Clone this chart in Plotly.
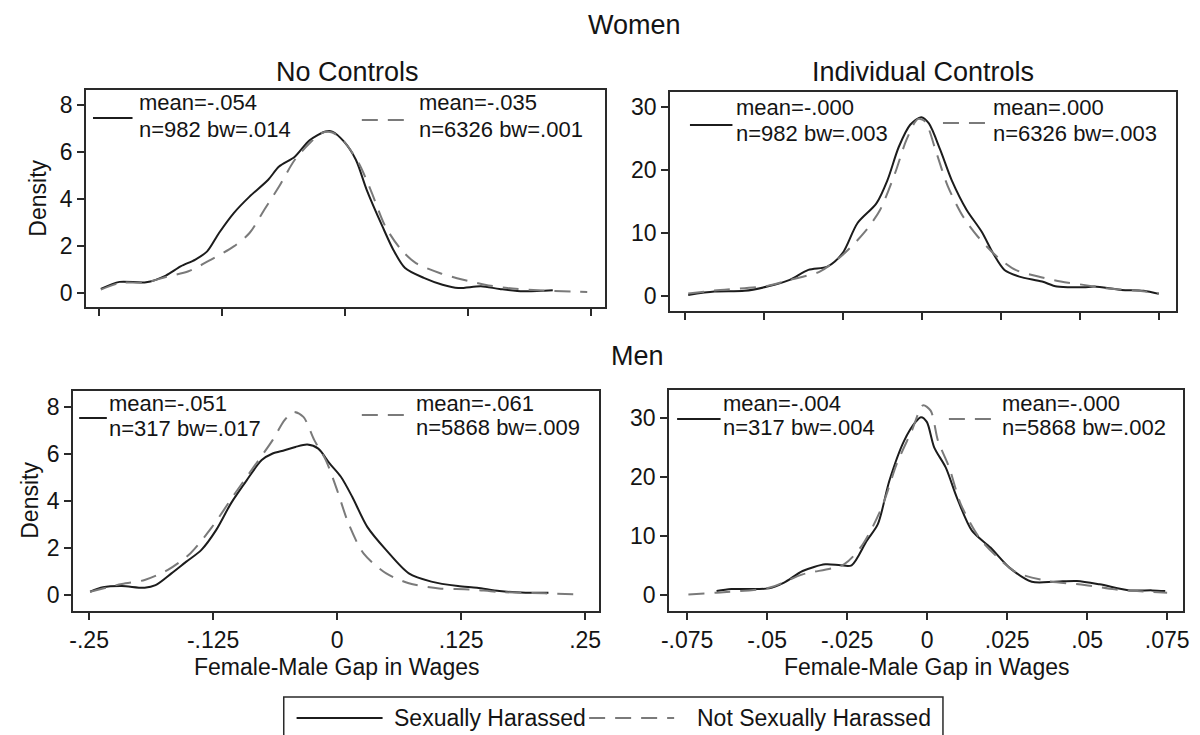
import plotly.graph_objects as go

W, H = 1200, 735

# ---------------- data: kernel densities of the female-male wage gap ----------------
# Women, no controls
women_nc_har_x = [-0.248, -0.229, -0.202, -0.182, -0.167, -0.152, -0.140, -0.128, -0.113, -0.097,
                  -0.078, -0.067, -0.051, -0.036, -0.020, -0.013, -0.001, 0.011, 0.022, 0.038,
                  0.049, 0.061, 0.080, 0.099, 0.115, 0.138, 0.157, 0.181, 0.211]
women_nc_har_y = [0.17, 0.47, 0.45, 0.74, 1.13, 1.42, 1.77, 2.55, 3.40, 4.10,
                  4.82, 5.38, 5.80, 6.50, 6.87, 6.87, 6.44, 5.67, 4.39, 2.83,
                  1.84, 1.06, 0.64, 0.35, 0.21, 0.28, 0.17, 0.07, 0.11]
women_nc_not_x = [-0.248, -0.229, -0.202, -0.182, -0.159, -0.136, -0.113, -0.097, -0.082, -0.067,
                  -0.051, -0.036, -0.024, -0.013, -0.001, 0.014, 0.026, 0.041, 0.057, 0.072,
                  0.096, 0.119, 0.142, 0.165, 0.196, 0.246]
women_nc_not_y = [0.14, 0.42, 0.45, 0.68, 0.92, 1.42, 1.98, 2.55, 3.54, 4.53,
                  5.67, 6.37, 6.80, 6.83, 6.44, 5.52, 4.39, 2.83, 1.84, 1.27,
                  0.85, 0.57, 0.35, 0.21, 0.11, 0.04]

# Women, individual controls
women_ic_har_x = [-0.074, -0.0657, -0.0562, -0.049, -0.0419, -0.036, -0.030, -0.0252, -0.0205, -0.0145,
                  -0.011, -0.0074, -0.0038, -0.0003, 0.0021, 0.0057, 0.0093, 0.014, 0.0188, 0.0224,
                  0.026, 0.0307, 0.0379, 0.0426, 0.051, 0.0545, 0.0629, 0.070, 0.0748]
women_ic_har_y = [0.16, 0.69, 0.80, 1.48, 2.54, 4.13, 4.66, 6.78, 11.55, 14.7,
                  18.4, 23.7, 27.2, 28.4, 27.4, 23.2, 18.4, 13.7, 10.2, 6.78,
                  4.13, 3.07, 2.28, 1.48, 1.38, 1.48, 0.95, 0.80, 0.32]
women_ic_not_x = [-0.074, -0.0657, -0.049, -0.0419, -0.0324, -0.0252, -0.0181, -0.0133, -0.0086, -0.005,
                  -0.0014, 0.0009, 0.0045, 0.0081, 0.0129, 0.0176, 0.0236, 0.0295, 0.0367, 0.0438,
                  0.051, 0.058, 0.0676, 0.0748]
women_ic_not_y = [0.37, 0.85, 1.59, 2.54, 3.87, 6.50, 10.2, 13.7, 19.5, 24.8,
                  28.1, 27.7, 22.7, 17.4, 12.6, 9.40, 6.25, 4.13, 3.07, 2.28,
                  1.75, 1.22, 0.85, 0.42]

# Men, no controls
men_nc_har_x = [-0.249, -0.236, -0.217, -0.194, -0.183, -0.167, -0.152, -0.137, -0.122, -0.107,
                -0.091, -0.076, -0.065, -0.053, -0.042, -0.030, -0.019, -0.0076, 0.0038, 0.0152,
                0.0304, 0.0495, 0.0723, 0.095, 0.1218, 0.141, 0.1636, 0.190, 0.213]
men_nc_har_y = [0.14, 0.33, 0.38, 0.31, 0.42, 0.92, 1.42, 1.91, 2.76, 3.90,
                4.89, 5.74, 6.02, 6.16, 6.30, 6.40, 6.23, 5.60, 5.03, 4.18,
                2.90, 1.91, 0.92, 0.57, 0.38, 0.31, 0.17, 0.10, 0.10]
men_nc_not_x = [-0.249, -0.217, -0.194, -0.171, -0.148, -0.126, -0.103, -0.084, -0.065, -0.053,
                -0.044, -0.034, -0.023, -0.0114, 0.0, 0.0114, 0.0266, 0.0495, 0.0723, 0.1027,
                0.133, 0.1636, 0.209, 0.240]
men_nc_not_y = [0.14, 0.47, 0.64, 1.06, 1.77, 2.90, 4.32, 5.45, 6.59, 7.44,
                7.79, 7.58, 6.59, 5.74, 4.46, 3.05, 1.77, 0.92, 0.50, 0.28,
                0.24, 0.13, 0.07, 0.03]

# Men, individual controls
men_ic_har_x = [-0.0658, -0.0612, -0.0494, -0.0447, -0.0389, -0.0318, -0.0271, -0.0236, -0.0189, -0.0154,
                -0.0118, -0.0072, -0.0036, -0.0019, -0.0001, 0.0022, 0.0058, 0.0093, 0.014, 0.0198,
                0.0257, 0.0327, 0.0398, 0.0468, 0.0539, 0.0633, 0.0703, 0.0744]
men_ic_har_y = [0.68, 1.02, 1.13, 2.09, 4.07, 5.20, 5.04, 5.04, 9.17, 12.0,
                19.35, 26.1, 29.3, 30.1, 29.3, 25.0, 21.6, 16.5, 10.9, 8.04,
                4.64, 2.26, 2.26, 2.38, 1.81, 0.79, 0.79, 0.68]
men_ic_not_x = [-0.0746, -0.0658, -0.0494, -0.0389, -0.026, -0.0201, -0.0142, -0.0095, -0.0048, -0.0013,
                0.0011, 0.0034, 0.0069, 0.0105, 0.0163, 0.0222, 0.028, 0.0374, 0.0492, 0.0586,
                0.0656, 0.075]
men_ic_not_y = [0.11, 0.40, 1.25, 3.50, 5.20, 8.60, 14.8, 22.2, 27.8, 32.1,
                31.2, 26.1, 21.6, 15.4, 9.70, 6.30, 3.80, 2.40, 1.70, 0.96,
                0.68, 0.40]

# Kernel summary statistics: (harassed, not harassed) per panel
women_nc_stats = [("mean=-.054", "n=982 bw=.014"), ("mean=-.035", "n=6326 bw=.001")]
women_ic_stats = [("mean=-.000", "n=982 bw=.003"), ("mean=.000", "n=6326 bw=.003")]
men_nc_stats = [("mean=-.051", "n=317 bw=.017"), ("mean=-.061", "n=5868 bw=.009")]
men_ic_stats = [("mean=-.004", "n=317 bw=.004"), ("mean=-.000", "n=5868 bw=.002")]

# Axis ticks
gap_ticks_wide = [-0.25, -0.125, 0, 0.125, 0.25]
gap_labels_wide = ["-.25", "-.125", "0", ".125", ".25"]
gap_ticks_narrow = [-0.075, -0.05, -0.025, 0, 0.025, 0.05, 0.075]
gap_labels_narrow = ["-.075", "-.05", "-.025", "0", ".025", ".05", ".075"]
density_ticks_nc = [0, 2, 4, 6, 8]
density_ticks_ic = [0, 10, 20, 30]

series_names = ["Sexually Harassed", "Not Sexually Harassed"]

# ---------------- styling ----------------
FONT = "Arial, Liberation Sans, Helvetica, sans-serif"
TXT = "#141414"
FRAME = "#2a2a2a"
SOLID_COLOR = "#1c1c1c"
DASH_COLOR = "#7a7a7a"
DASH_PATTERN = "16px,10px"
FS = 23
KEY_FS = 22


def px_x(p):
    return p / W


def px_y(p):
    return 1 - p / H


# panel layout in pixels: (left, right, top, bottom), axis ranges, ticks
panels = [
    dict(box=(79, 604, 90, 307), xr=[-0.263, 0.264], yr=[-0.6, 8.64],
         xt=(gap_ticks_wide, gap_labels_wide), yt=density_ticks_nc, xlabels=False,
         data=[(women_nc_har_x, women_nc_har_y), (women_nc_not_x, women_nc_not_y)],
         stats=women_nc_stats,
         leg=[(86, 126, 118, 132, 103, 129), (358, 408, 120, 415, 103, 129)]),
    dict(box=(670, 1182, 92, 311), xr=[-0.0797, 0.0803], yr=[-2.4, 32.4],
         xt=(gap_ticks_narrow, gap_labels_narrow), yt=density_ticks_ic, xlabels=False,
         data=[(women_ic_har_x, women_ic_har_y), (women_ic_not_x, women_ic_not_y)],
         stats=women_ic_stats,
         leg=[(690, 733, 125, 736, 107, 133), (946, 994, 123, 996, 107, 133)]),
    dict(box=(66, 598, 391, 611), xr=[-0.266, 0.264], yr=[-0.68, 8.68],
         xt=(gap_ticks_wide, gap_labels_wide), yt=density_ticks_nc, xlabels=True,
         data=[(men_nc_har_x, men_nc_har_y), (men_nc_not_x, men_nc_not_y)],
         stats=men_nc_stats,
         leg=[(72, 100, 418, 101, 403, 428), (358, 408, 415, 412, 403, 427)]),
    dict(box=(669, 1189, 390, 611), xr=[-0.0806, 0.080], yr=[-2.7, 34.7],
         xt=(gap_ticks_narrow, gap_labels_narrow), yt=density_ticks_ic, xlabels=True,
         data=[(men_ic_har_x, men_ic_har_y), (men_ic_not_x, men_ic_not_y)],
         stats=men_ic_stats,
         leg=[(677, 721, 419, 722, 403, 427), (952, 1004, 419, 1005, 403, 427)]),
]

fig = go.Figure()
layout = dict(
    width=W, height=H, margin=dict(l=0, r=0, t=0, b=0),
    paper_bgcolor="white", plot_bgcolor="white", showlegend=False,
    font=dict(family=FONT, size=FS, color=TXT),
)
shapes = []
annotations = []

for i, p in enumerate(panels, start=1):
    l, r, t, b = p["box"]
    xa = "xaxis" if i == 1 else f"xaxis{i}"
    ya = "yaxis" if i == 1 else f"yaxis{i}"
    xref = "x" if i == 1 else f"x{i}"
    yref = "y" if i == 1 else f"y{i}"

    for k, (xs, ys) in enumerate(p["data"]):
        fig.add_trace(go.Scatter(
            x=xs, y=ys, mode="lines", name=series_names[k],
            xaxis=xref, yaxis=yref, hoverinfo="skip",
            line=dict(color=SOLID_COLOR if k == 0 else DASH_COLOR, width=2,
                      dash="solid" if k == 0 else DASH_PATTERN,
                      shape="spline", smoothing=0.8),
        ))

    layout[xa] = dict(
        domain=[px_x(l), px_x(r)], range=p["xr"], anchor=yref,
        tickmode="array", tickvals=p["xt"][0], ticktext=p["xt"][1],
        showticklabels=p["xlabels"], ticks="outside", ticklen=7, tickwidth=1.5,
        tickcolor=FRAME, showline=True, linecolor=FRAME, linewidth=2, mirror=True,
        showgrid=False, zeroline=False, fixedrange=True,
        tickfont=dict(family=FONT, size=FS, color=TXT),
    )
    layout[ya] = dict(
        domain=[px_y(b), px_y(t)], range=p["yr"], anchor=xref,
        tickmode="array", tickvals=p["yt"], ticks="outside", ticklen=7, tickwidth=1.5,
        tickcolor=FRAME, showline=True, linecolor=FRAME, linewidth=2, mirror=True,
        showgrid=False, zeroline=False, fixedrange=True,
        tickfont=dict(family=FONT, size=FS, color=TXT),
    )

    # in-panel key: line sample + two-line kernel summary per series
    for k, (x0, x1, ly, tx, ty1, ty2) in enumerate(p["leg"]):
        shapes.append(dict(
            type="line", xref="paper", yref="paper",
            x0=px_x(x0), x1=px_x(x1), y0=px_y(ly), y1=px_y(ly),
            line=dict(color=SOLID_COLOR if k == 0 else DASH_COLOR, width=2,
                      dash="solid" if k == 0 else DASH_PATTERN),
        ))
        for txt, ty in zip(p["stats"][k], (ty1, ty2)):
            annotations.append(dict(
                text=txt, xref="paper", yref="paper", x=px_x(tx), y=px_y(ty),
                xanchor="left", yanchor="middle", showarrow=False, borderpad=0,
                font=dict(family=FONT, size=KEY_FS, color=TXT),
            ))

# titles
for txt, cx, cy in [("Women", 634, 25), ("No Controls", 344, 72),
                    ("Individual Controls", 926, 72), ("Men", 637, 356)]:
    annotations.append(dict(text=txt, xref="paper", yref="paper", x=px_x(cx), y=px_y(cy),
                            xanchor="center", yanchor="middle", showarrow=False,
                            font=dict(family=FONT, size=27, color=TXT)))

# axis titles
for cx, cy in [(30, 198), (22, 500)]:
    annotations.append(dict(text="Density", xref="paper", yref="paper", x=px_x(cx), y=px_y(cy),
                            xanchor="center", yanchor="middle", textangle=-90, showarrow=False,
                            font=dict(family=FONT, size=FS, color=TXT)))
for cx in [332, 929]:
    annotations.append(dict(text="Female-Male Gap in Wages", xref="paper", yref="paper",
                            x=px_x(cx), y=px_y(667), xanchor="center", yanchor="middle",
                            showarrow=False, borderpad=0,
                            font=dict(family=FONT, size=FS, color=TXT)))

# shared key at the bottom
shapes.append(dict(type="rect", xref="paper", yref="paper",
                   x0=px_x(279), x1=px_x(946), y0=px_y(760), y1=px_y(697),
                   line=dict(color=FRAME, width=1.5), fillcolor="white", layer="below"))
for k, (x0, x1, tx) in enumerate([(292, 379, 390), (588, 674, 696)]):
    shapes.append(dict(type="line", xref="paper", yref="paper",
                       x0=px_x(x0), x1=px_x(x1), y0=px_y(718), y1=px_y(718),
                       line=dict(color=SOLID_COLOR if k == 0 else DASH_COLOR, width=2,
                                 dash="solid" if k == 0 else DASH_PATTERN)))
    annotations.append(dict(text=series_names[k], xref="paper", yref="paper",
                            x=px_x(tx), y=px_y(718), xanchor="left", yanchor="middle",
                            showarrow=False, borderpad=0,
                            font=dict(family=FONT, size=FS, color=TXT)))

layout["shapes"] = shapes
layout["annotations"] = annotations
fig.update_layout(**layout)
fig.write_html("out.html")
